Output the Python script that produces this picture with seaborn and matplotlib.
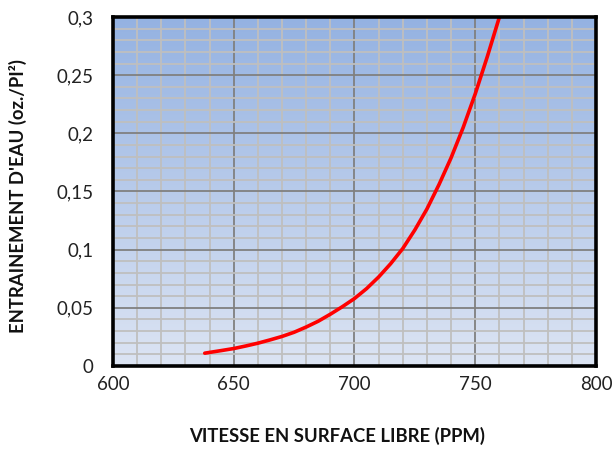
import numpy as np
import pandas as pd
import matplotlib
matplotlib.use("Agg")
import matplotlib.pyplot as plt
from matplotlib.colors import LinearSegmentedColormap
import seaborn as sns

# Data
vitesse = [638, 645, 650, 655, 660, 665, 670, 675, 680, 685, 690, 695, 700,
           705, 710, 715, 720, 725, 730, 735, 740, 745, 750, 755, 760]
entrainement = [0.011, 0.0133, 0.015, 0.0172, 0.0196, 0.0224, 0.0254, 0.029,
                0.0335, 0.0385, 0.0445, 0.051, 0.058, 0.0665, 0.0765, 0.088,
                0.101, 0.117, 0.135, 0.156, 0.179, 0.205, 0.234, 0.266, 0.300]
x_ticks = [600, 650, 700, 750, 800]
y_ticks = [0, 0.05, 0.1, 0.15, 0.2, 0.25, 0.3]
y_tick_labels = ["0", "0,05", "0,1", "0,15", "0,2", "0,25", "0,3"]
x_label = "VITESSE EN SURFACE LIBRE (PPM)"
y_label = "ENTRAINEMENT D'EAU (oz./PI²)"

sns.set_style("white")
plt.rcParams["font.family"] = ["Lato", "DejaVu Sans"]

df = pd.DataFrame({"x": vitesse, "y": entrainement})

fig = plt.figure(figsize=(6.13, 4.49), dpi=100)
ax = fig.add_axes([0.1843, 0.1849, 0.9723 - 0.1843, 0.9621 - 0.1849])

# gradient background
cmap = LinearSegmentedColormap.from_list("bg", ["#DCE4F3", "#94B2E2"])
grad = np.linspace(0, 1, 256).reshape(-1, 1)
ax.imshow(grad, cmap=cmap, aspect="auto", origin="lower",
          extent=[0, 1, 0, 1], transform=ax.transAxes, zorder=0)

sns.lineplot(data=df, x="x", y="y", ax=ax, color="#FF0000", linewidth=2.6,
             zorder=3)

ax.set_xlim(600, 800)
ax.set_ylim(0, 0.3)
ax.set_xticks(x_ticks)
ax.set_xticklabels([str(v) for v in x_ticks])
ax.set_yticks(y_ticks)
ax.set_yticklabels(y_tick_labels)
ax.set_xticks(np.arange(600, 801, 10), minor=True)
ax.set_yticks(np.arange(0, 0.3001, 0.01), minor=True)

ax.grid(which="minor", color="#BFBFBF", linewidth=1.3, zorder=1)
ax.grid(which="major", color="#808080", linewidth=1.3, zorder=2)
ax.set_axisbelow(True)

ax.tick_params(which="both", length=0)
ax.tick_params(axis="y", pad=14, labelsize=13.5, labelcolor="#222222")
ax.tick_params(axis="x", pad=7, labelsize=13.5, labelcolor="#222222")

for s in ax.spines.values():
    s.set_visible(True)
    s.set_color("black")
    s.set_linewidth(2.6)
    s.set_zorder(5)

ax.set_xlabel(x_label, fontsize=13.3, fontweight="bold", color="#111111")
ax.set_ylabel(y_label, fontsize=13.3, fontweight="bold", color="#111111")
ax.xaxis.set_label_coords(0.464, -0.175)
ax.yaxis.set_label_coords(-0.178, 0.488)

fig.savefig("out.png", dpi=100)
